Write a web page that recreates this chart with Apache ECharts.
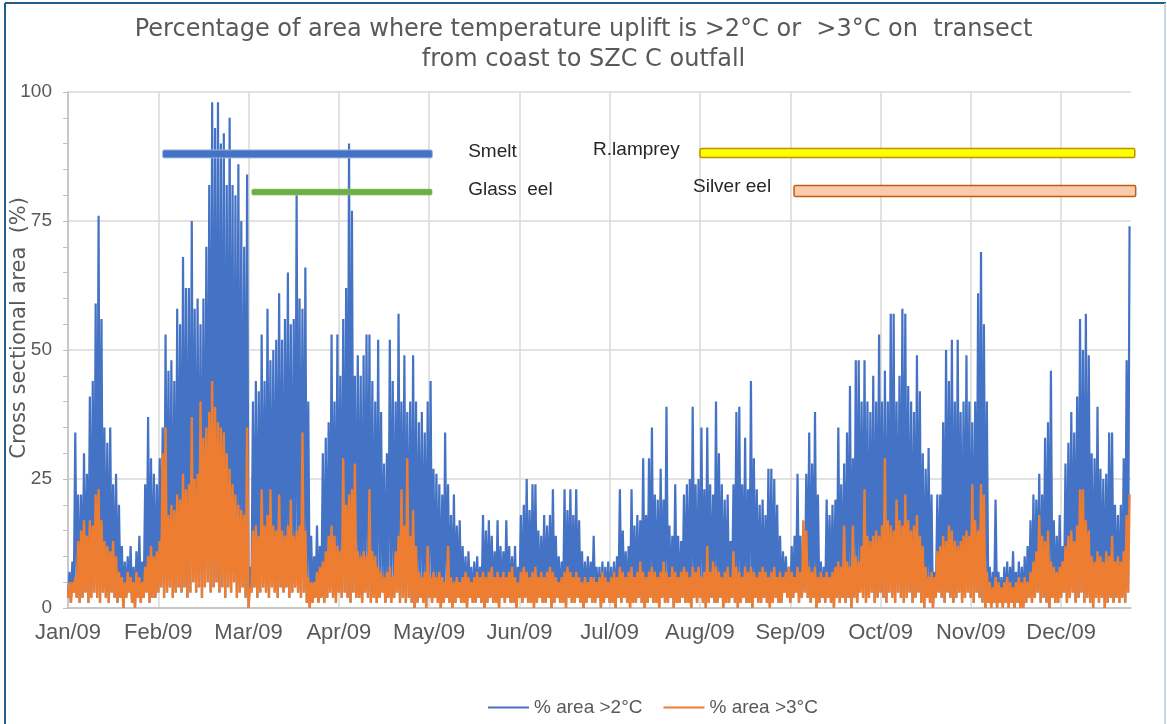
<!DOCTYPE html>
<html>
<head>
<meta charset="utf-8">
<script src="https://cdn.jsdelivr.net/npm/echarts@6/dist/echarts.min.js"></script>
<style>
html,body{margin:0;padding:0;background:#fff;}
#chart{width:1167px;height:724px;}
</style>
</head>
<body>
<div id="chart"></div>
<script>
// ---- tick labels (one every 31 days on the day axis) ----
var monthLabels = ["Jan/09","Feb/09","Mar/09","Apr/09","May/09","Jun/09","Jul/09","Aug/09","Sep/09","Oct/09","Nov/09","Dec/09"];

// ---- daily peak of % area >2°C ----
var blueHigh = [
 7, 9, 34, 22, 22, 30, 26, 41, 44, 59,
 76, 56, 35, 32, 35, 24, 26, 20, 12, 9,
 10, 12, 8, 11, 14, 9, 24, 37, 29, 26,
 24, 29, 35, 53, 46, 48, 44, 58, 55, 68,
 62, 62, 75, 58, 60, 55, 60, 70, 82, 98,
 93, 98, 90, 92, 82, 95, 82, 80, 86, 75,
 70, 84, 8, 40, 44, 42, 53, 44, 58, 48,
 50, 52, 61, 52, 56, 65, 55, 56, 80, 60,
 58, 66, 40, 14, 10, 16, 12, 30, 33, 36,
 53, 40, 53, 45, 56, 62, 90, 77, 45, 49,
 45, 49, 53, 53, 44, 40, 52, 38, 28, 30,
 52, 44, 40, 57, 40, 49, 38, 40, 49, 40,
 36, 38, 34, 40, 44, 27, 26, 24, 22, 34,
 24, 18, 22, 16, 17, 12, 10, 11, 8, 9,
 10, 8, 18, 15, 17, 14, 11, 17, 12, 11,
 17, 12, 10, 12, 8, 18, 20, 25, 19, 24,
 24, 15, 14, 18, 16, 18, 23, 14, 10, 9,
 23, 19, 23, 18, 23, 17, 11, 9, 10, 9,
 14, 8, 8, 9, 8, 9, 8, 9, 10, 23,
 15, 11, 12, 23, 16, 18, 17, 29, 18, 29,
 35, 22, 21, 27, 21, 39, 16, 14, 24, 14,
 13, 22, 24, 25, 39, 24, 25, 35, 23, 35,
 24, 22, 40, 30, 24, 21, 22, 13, 24, 38,
 39, 24, 33, 23, 44, 29, 23, 20, 21, 18,
 27, 27, 25, 20, 14, 11, 10, 8, 12, 14,
 26, 14, 13, 26, 34, 28, 38, 22, 9, 8,
 21, 18, 20, 21, 35, 24, 28, 34, 43, 29,
 48, 48, 40, 48, 40, 38, 45, 40, 53, 40,
 46, 40, 57, 57, 40, 45, 58, 57, 43, 40,
 38, 49, 42, 30, 27, 31, 22, 7, 22, 22,
 36, 50, 44, 52, 40, 52, 38, 40, 49, 40,
 36, 40, 61, 69, 55, 40, 8, 7, 21, 7,
 6, 8, 9, 8, 11, 7, 9, 8, 10, 12,
 17, 22, 21, 26, 22, 33, 36, 46, 17, 14,
 18, 12, 28, 32, 38, 34, 41, 56, 50, 57,
 49, 30, 29, 39, 27, 25, 26, 34, 34, 20,
 18, 20, 29, 48, 74
];

// ---- daily peak of % area >3°C ----
var orangeHigh = [
 5, 5, 6, 13, 15, 17, 14, 17, 16, 22,
 23, 17, 13, 12, 11, 13, 10, 7, 6, 5,
 7, 6, 5, 7, 6, 5, 8, 10, 12, 10,
 11, 13, 30, 35, 18, 20, 19, 22, 21, 26,
 23, 24, 37, 25, 26, 40, 33, 35, 38, 44,
 39, 36, 35, 34, 30, 27, 24, 22, 20, 19,
 18, 35, 4, 15, 16, 14, 23, 16, 18, 23,
 16, 15, 22, 15, 14, 16, 21, 14, 15, 16,
 34, 15, 6, 5, 5, 7, 8, 9, 11, 14,
 16, 14, 12, 11, 29, 20, 22, 23, 28, 11,
 10, 11, 10, 23, 11, 10, 8, 7, 6, 7,
 8, 6, 11, 14, 23, 16, 29, 14, 19, 12,
 7, 6, 7, 12, 6, 7, 6, 7, 6, 5,
 12, 6, 5, 6, 5, 6, 7, 6, 5, 6,
 7, 6, 7, 6, 7, 8, 6, 7, 6, 7,
 6, 7, 8, 6, 5, 7, 8, 7, 6, 7,
 8, 6, 7, 6, 7, 8, 7, 6, 5, 6,
 7, 8, 7, 6, 7, 6, 5, 6, 5, 6,
 6, 5, 6, 7, 6, 5, 6, 7, 6, 8,
 7, 6, 7, 8, 6, 7, 9, 7, 6, 7,
 8, 7, 6, 7, 9, 7, 6, 8, 7, 6,
 7, 8, 7, 6, 8, 7, 8, 6, 7, 12,
 7, 9, 8, 7, 6, 7, 8, 6, 11, 8,
 7, 6, 8, 7, 8, 7, 6, 7, 8, 7,
 6, 7, 8, 6, 7, 6, 7, 8, 7, 6,
 8, 7, 17, 15, 8, 7, 8, 6, 7, 6,
 7, 6, 7, 8, 9, 8, 16, 9, 8, 16,
 10, 9, 12, 23, 14, 13, 14, 15, 14, 16,
 29, 17, 16, 15, 21, 17, 16, 22, 17, 15,
 16, 18, 14, 12, 8, 6, 7, 6, 11, 12,
 14, 13, 16, 15, 13, 12, 13, 14, 15, 14,
 24, 17, 15, 24, 22, 7, 5, 4, 6, 5,
 4, 5, 6, 5, 4, 5, 6, 5, 6, 5,
 7, 9, 11, 18, 14, 13, 15, 9, 8, 7,
 8, 9, 12, 14, 15, 13, 16, 23, 23, 17,
 15, 10, 9, 11, 10, 9, 11, 10, 14, 9,
 10, 9, 11, 18, 22
];

// ---- daily trough (low tide) level, both series ----
var dailyLow = [
 2, 1, 3, 2, 1, 2, 3, 1, 2, 3,
 2, 1, 3, 2, 1, 3, 2, 1, 2, 0,
 2, 3, 1, 0, 2, 1, 2, 3, 1, 2,
 2, 3, 4, 2, 3, 4, 2, 3, 4, 3,
 4, 2, 3, 5, 3, 4, 2, 4, 5, 3,
 4, 5, 3, 4, 2, 4, 3, 5, 2, 3,
 4, 2, 0, 3, 4, 2, 3, 4, 3, 2,
 4, 3, 2, 4, 3, 4, 2, 3, 4, 3,
 2, 3, 1, 0, 1, 2, 1, 2, 1, 2,
 3, 2, 1, 3, 2, 3, 2, 1, 3, 2,
 2, 1, 3, 2, 1, 2, 1, 2, 3, 1,
 2, 1, 2, 3, 1, 2, 1, 2, 1, 0,
 1, 2, 1, 0, 2, 1, 2, 1, 0, 1,
 2, 1, 0, 1, 2, 1, 1, 0, 2, 1,
 1, 2, 1, 0, 1, 2, 1, 1, 0, 2,
 1, 2, 1, 1, 0, 2, 1, 2, 1, 1,
 0, 1, 2, 1, 1, 2, 0, 1, 2, 1,
 1, 0, 2, 1, 1, 2, 1, 0, 1, 2,
 1, 1, 2, 0, 1, 2, 1, 1, 0, 2,
 1, 2, 1, 0, 1, 1, 2, 1, 0, 1,
 2, 1, 1, 0, 2, 1, 1, 2, 0, 1,
 1, 2, 1, 1, 0, 2, 1, 2, 1, 0,
 1, 2, 1, 1, 2, 0, 1, 1, 2, 1,
 0, 1, 2, 1, 1, 0, 2, 1, 1, 2,
 1, 0, 1, 2, 1, 1, 3, 2, 1, 2,
 3, 1, 2, 3, 2, 1, 2, 0, 1, 2,
 1, 2, 1, 0, 2, 1, 2, 1, 2, 0,
 2, 1, 3, 2, 1, 2, 3, 1, 2, 3,
 2, 1, 3, 2, 1, 3, 2, 1, 2, 3,
 1, 2, 3, 1, 0, 2, 1, 0, 2, 3,
 2, 1, 3, 2, 1, 2, 3, 1, 2, 3,
 2, 1, 3, 2, 1, 0, 1, 0, 1, 0,
 1, 0, 1, 0, 1, 0, 1, 0, 0, 1,
 2, 1, 2, 3, 1, 2, 1, 0, 2, 1,
 1, 2, 3, 1, 2, 3, 1, 2, 3, 1,
 2, 1, 0, 2, 1, 2, 0, 1, 2, 1,
 2, 1, 2, 1, 3
];

// ---- species presence bars (day of year start/end, level on % axis) ----
var speciesNames = ["Smelt", "Glass  eel", "R.lamprey", "Silver eel"];
var speciesStart = [32.5, 63.1, 217.0, 249.3];
var speciesEnd   = [125.1, 125.0, 366.3, 366.6];
var speciesLevel = [88.0, 80.6, 88.2, 80.8];
var labelDay     = [137.4, 137.4, 180.3, 214.6];
var labelLevel   = [88.4, 81.0, 88.8, 81.6];

// ---- styles (not data) ----
var barFill   = ["#4472C4", "#70AD47", "#FFFF00", "#F8CBAD"];
var barStroke = ["#9DB5E3", "#8CC46A", "#BF9000", "#C55A11"];
var barH      = [8, 6, 9, 11];
var barLW     = [1, 0.6, 1.5, 1.5];

function zig(high, low) {
  var out = [];
  for (var d = 0; d < high.length; d++) {
    out.push([d, low[d]]);
    out.push([d + 0.5, high[d]]);
  }
  return out;
}

var speciesData = speciesNames.map(function (n, i) {
  return { name: n, value: [speciesStart[i], speciesEnd[i], speciesLevel[i], labelDay[i], labelLevel[i]] };
});

var chart = echarts.init(document.getElementById('chart'), null, { renderer: 'canvas' });
var FONT = "'Liberation Sans', Arial, sans-serif";
var WFONT = "'DejaVu Sans', 'Liberation Sans', sans-serif";

chart.setOption({
  animation: false,
  backgroundColor: '#ffffff',
  textStyle: { fontFamily: FONT },
  title: {
    text: 'Percentage of area where temperature uplift is >2°C or  >3°C on  transect\nfrom coast to SZC C outfall',
    left: 'center',
    top: 10,
    textStyle: { fontFamily: WFONT, fontSize: 24, fontWeight: 'normal', color: '#595959', lineHeight: 30 }
  },
  legend: {
    left: 488,
    top: 698,
    padding: 0,
    itemWidth: 41,
    itemHeight: 2,
    itemGap: 21,
    icon: 'rect',
    data: ['% area >2°C', '% area >3°C'],
    textStyle: { fontFamily: FONT, fontSize: 19, color: '#595959' }
  },
  grid: { left: 68, right: 36, top: 92, bottom: 116, containLabel: false, outerBoundsMode: 'none' },
  xAxis: {
    type: 'value',
    min: 0,
    max: 365,
    interval: 31,
    axisLine: { show: true, lineStyle: { color: '#BFBFBF', width: 1.5 } },
    axisTick: { show: false },
    axisLabel: {
      showMaxLabel: false,
      margin: 14,
      fontFamily: FONT,
      fontSize: 22,
      color: '#595959',
      formatter: function (v) { var k = Math.round(v / 31); return (Math.abs(v - k * 31) < 0.01 && monthLabels[k]) ? monthLabels[k] : ''; }
    },
    splitLine: { show: true, showMaxLine: false, lineStyle: { color: '#D9D9D9', width: 1.5 } }
  },
  yAxis: {
    type: 'value',
    min: 0,
    max: 100,
    interval: 25,
    axisLine: { show: true, lineStyle: { color: '#BFBFBF', width: 1.5 } },
    axisTick: { show: true, inside: false, length: 5, lineStyle: { color: '#BFBFBF' } },
    minorTick: { show: true, splitNumber: 5, length: 5, lineStyle: { color: '#BFBFBF' } },
    axisLabel: { margin: 16, fontFamily: FONT, fontSize: 19, color: '#595959' },
    splitLine: { show: true, lineStyle: { color: '#D9D9D9', width: 1.5 } }
  },
  series: [
    {
      name: '% area >2°C',
      type: 'line',
      data: zig(blueHigh, dailyLow),
      showSymbol: false,
      symbol: 'none',
      color: '#4472C4',
      lineStyle: { color: '#4472C4', width: 2.2, join: 'bevel' },
      z: 2
    },
    {
      name: '% area >3°C',
      type: 'line',
      data: zig(orangeHigh, dailyLow),
      showSymbol: false,
      symbol: 'none',
      color: '#ED7D31',
      lineStyle: { color: '#ED7D31', width: 2.4, join: 'bevel' },
      z: 3
    },
    {
      name: 'species',
      type: 'custom',
      clip: false,
      z: 5,
      data: speciesData,
      renderItem: function (params, api) {
        var i = params.dataIndex;
        var p0 = api.coord([api.value(0), api.value(2)]);
        var p1 = api.coord([api.value(1), api.value(2)]);
        var pl = api.coord([api.value(3), api.value(4)]);
        var h = barH[i];
        return {
          type: 'group',
          children: [
            { type: 'rect', shape: { x: p0[0], y: p0[1] - h / 2, width: p1[0] - p0[0], height: h, r: 1.5 },
              style: { fill: barFill[i], stroke: barStroke[i], lineWidth: barLW[i] } },
            { type: 'text', style: { text: speciesNames[i], x: pl[0], y: pl[1], align: 'left', verticalAlign: 'middle',
                font: '19px ' + FONT, fill: '#262626' } }
          ]
        };
      }
    }
  ],
  graphic: [
    { type: 'text', left: 9, top: 197, z: 10,
      style: { text: 'Cross sectional area  (%)', font: '21px ' + WFONT, fill: '#595959' },
      rotation: Math.PI / 2 },
    { type: 'line', shape: { x1: 5, y1: 3, x2: 1166, y2: 3 }, style: { stroke: '#1F5F8B', lineWidth: 2 } },
    { type: 'line', shape: { x1: 5, y1: 3, x2: 5, y2: 724 }, style: { stroke: '#1F5F8B', lineWidth: 2 } },
    { type: 'line', shape: { x1: 1165, y1: 3, x2: 1165, y2: 724 }, style: { stroke: '#B4CBE0', lineWidth: 1.5 } }
  ]
});
</script>
</body>
</html>
